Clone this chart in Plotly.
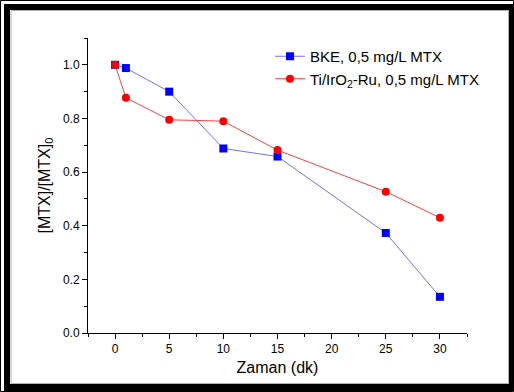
import plotly.graph_objects as go

time_bke = [0, 1, 5, 10, 15, 25, 30]
bke_values = [1.0, 0.988, 0.90, 0.688, 0.658, 0.373, 0.135]
time_ti = [0, 1, 5, 10, 15, 25, 30]
ti_values = [1.0, 0.877, 0.795, 0.79, 0.682, 0.527, 0.43]
bke_name = "BKE, 0,5 mg/L MTX"
ti_name = "Ti/IrO<sub>2</sub>-Ru, 0,5 mg/L MTX"

W, H = 514, 392
ML, MR, MT, MB = 88, 47, 38, 59
PW, PH = W - ML - MR, H - MT - MB
FONT = "Liberation Sans"

def px(x):
    return (x - ML) / PW

def py(y):
    return (H - MB - y) / PH

fig = go.Figure()
fig.add_trace(go.Scatter(
    x=time_bke, y=bke_values, name=bke_name, mode="lines+markers",
    line=dict(color="#7070ff", width=1),
    marker=dict(symbol="square", size=8, color="#0000ff"),
))
fig.add_trace(go.Scatter(
    x=time_ti, y=ti_values, name=ti_name, mode="lines+markers",
    line=dict(color="#ff4040", width=1),
    marker=dict(symbol="circle", size=8, color="#ff0000"),
))

axis_common = dict(
    showgrid=False, zeroline=False, showline=True, linecolor="black", linewidth=1,
    ticks="outside", ticklen=5, tickcolor="black", tickwidth=1,
    tickfont=dict(family=FONT, size=12, color="black"),
)

fig.update_xaxes(
    range=[-2.5, 32.5], dtick=5, tick0=0,
    minor=dict(ticks="outside", ticklen=3, dtick=2.5, tick0=0, tickcolor="black", showgrid=False),
    title=dict(text="Zaman (dk)", font=dict(family=FONT, size=16, color="black"), standoff=6),
    **axis_common,
)
fig.update_yaxes(
    range=[0, 1.1], dtick=0.2, tick0=0, tickformat=".1f",
    minor=dict(ticks="outside", ticklen=3, dtick=0.1, tick0=0, tickcolor="black", showgrid=False),
    title=dict(text="[MTX]/[MTX]<sub>0</sub>", font=dict(family=FONT, size=16, color="black"), standoff=8),
    **axis_common,
)

def band(x0, y0, x1, y1, color="black"):
    return dict(type="rect", xref="paper", yref="paper", x0=px(x0), y0=py(y0), x1=px(x1), y1=py(y1),
                line=dict(width=0), fillcolor=color, layer="above")

shapes = [
    dict(type="rect", xref="paper", yref="paper", x0=px(0.5), y0=py(0.5), x1=px(513.5), y1=py(391.5),
         line=dict(color="black", width=1)),
    band(4, 4, 510, 10),       # top
    band(4, 4, 10, 391),       # left
    band(509, 4, 514, 391),    # right
    band(4, 384, 514, 391),    # bottom
    dict(type="rect", xref="paper", yref="paper", x0=px(11), y0=py(10.5), x1=px(508.5), y1=py(383.5),
         line=dict(color="#b0b0b0", width=1)),
]

fig.update_layout(
    width=W, height=H,
    margin=dict(l=ML, r=MR, t=MT, b=MB),
    paper_bgcolor="white", plot_bgcolor="white",
    showlegend=True,
    legend=dict(x=px(270), y=py(40), xanchor="left", yanchor="top",
                font=dict(family=FONT, size=15, color="black"),
                bgcolor="rgba(0,0,0,0)", tracegroupgap=0, itemwidth=30),
    shapes=shapes,
)

fig.write_html("out.html", config={"displayModeBar": False},
               post_script="document.body.style.margin='0';document.body.style.overflow='hidden';")
